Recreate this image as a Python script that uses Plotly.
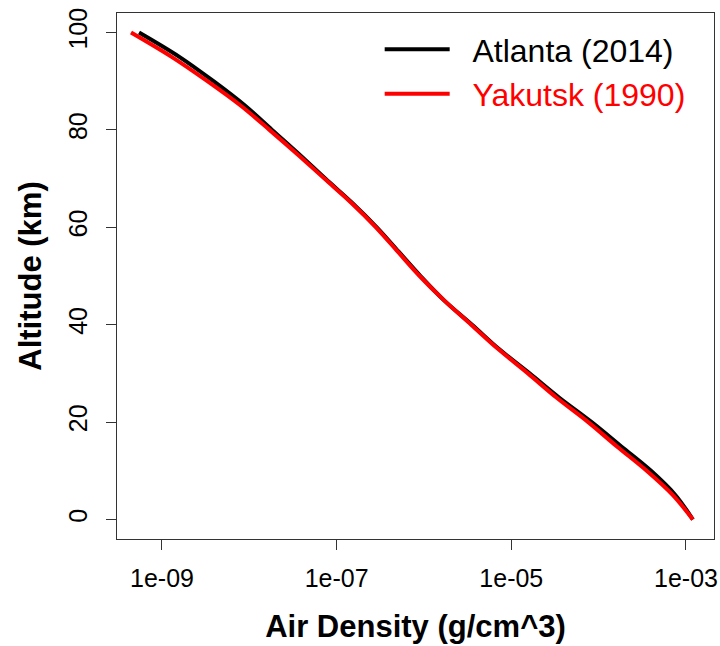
import plotly.graph_objects as go

# Altitude (km)
altitude = [0, 5, 10, 15, 20, 25, 30, 35, 40, 45, 50, 55, 60, 65, 70, 75, 80, 85, 90, 95, 100]

# Air density (g/cm^3)
atlanta_2014 = [1.20e-3, 7.59e-4, 3.98e-4, 1.82e-4, 8.32e-5, 3.55e-5, 1.62e-5, 7.24e-6,
                3.55e-6, 1.70e-6, 9.12e-7, 5.13e-7, 2.88e-7, 1.51e-7, 7.41e-8, 3.72e-8,
                1.82e-8, 8.91e-9, 3.89e-9, 1.58e-9, 5.46e-10]
yakutsk_1990 = [1.20e-3, 7.08e-4, 3.55e-4, 1.62e-4, 7.59e-5, 3.31e-5, 1.55e-5, 7.08e-6,
                3.47e-6, 1.70e-6, 8.91e-7, 5.01e-7, 2.82e-7, 1.48e-7, 7.24e-8, 3.55e-8,
                1.70e-8, 7.94e-9, 3.31e-9, 1.29e-9, 4.42e-10]

x_tick_vals = [1e-9, 1e-7, 1e-5, 1e-3]
x_tick_text = ["1e-09", "1e-07", "1e-05", "1e-03"]
y_tick_vals = [0, 20, 40, 60, 80, 100]

FONT = "Liberation Sans, Arial, sans-serif"
GAP = "\u00a0\u00a0"

fig = go.Figure()
fig.add_trace(go.Scatter(x=atlanta_2014, y=altitude, mode="lines", name=GAP + "Atlanta (2014)",
                         line=dict(color="black", width=4, shape="spline")))
fig.add_trace(go.Scatter(x=yakutsk_1990, y=altitude, mode="lines",
                         name=GAP + '<span style="color:#ff0000">Yakutsk (1990)</span>',
                         line=dict(color="#ff0000", width=4, shape="spline")))

fig.update_layout(
    width=720, height=646,
    margin=dict(l=117, r=6, t=13, b=107, autoexpand=False),
    paper_bgcolor="white", plot_bgcolor="white",
    font=dict(family=FONT, color="black"),
    showlegend=True,
    legend=dict(x=0.44, y=0.983, xanchor="left", yanchor="top",
                bgcolor="rgba(0,0,0,0)", font=dict(size=32, family=FONT),
                itemwidth=65, tracegroupgap=0),
)
fig.update_xaxes(
    type="log", range=[-9.515, -2.679], automargin=False,
    tickvals=x_tick_vals, ticktext=x_tick_text,
    ticks="outside", ticklen=10, tickwidth=1, tickcolor="#333",
    showline=True, mirror=True, linecolor="#333", linewidth=1,
    showgrid=False, zeroline=False, ticklabelstandoff=7, ticklabeloverflow="allow",
    tickfont=dict(size=25, family=FONT),
    title=dict(text="<b>Air Density (g/cm^3)</b>", font=dict(size=31, family=FONT), standoff=24),
)
fig.update_yaxes(
    range=[-4, 104], automargin=False,
    tickvals=y_tick_vals,
    ticks="outside", ticklen=10, tickwidth=1, tickcolor="#333",
    showline=True, mirror=True, linecolor="#333", linewidth=1,
    showgrid=False, zeroline=False, tickangle=-90, ticklabelstandoff=9,
    ticklabeloverflow="allow",
    tickfont=dict(size=25, family=FONT),
    title=dict(text="<b>Altitude (km)</b>", font=dict(size=31, family=FONT), standoff=13),
)

fig.write_html(
    "out.html",
    config={"displayModeBar": False},
    post_script="document.body.style.margin='0';document.documentElement.style.overflow='hidden';",
)
